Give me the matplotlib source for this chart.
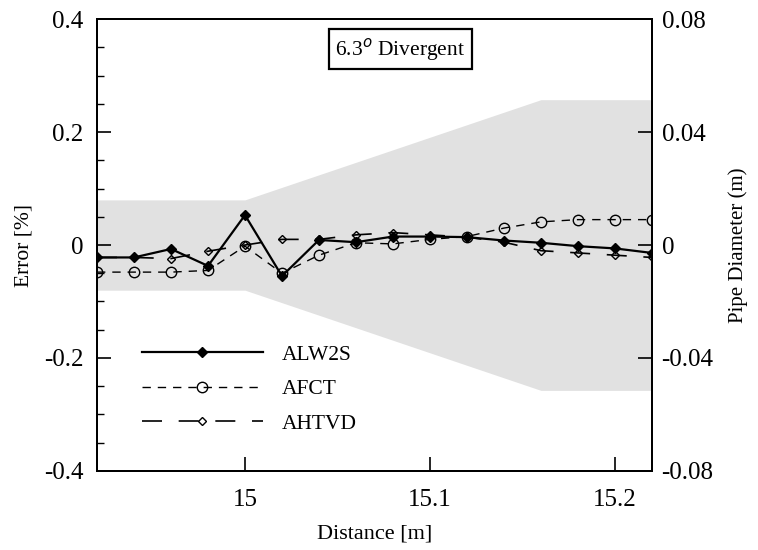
import matplotlib
matplotlib.use("Agg")
import matplotlib.pyplot as plt
import numpy as np

plt.rcParams['font.family'] = ['Liberation Serif', 'DejaVu Serif']
plt.rcParams['mathtext.fontset'] = 'custom'
plt.rcParams['mathtext.rm'] = 'Liberation Serif'

# Data
distance = [14.92, 14.94, 14.96, 14.98, 15.00, 15.02, 15.04, 15.06,
            15.08, 15.10, 15.12, 15.14, 15.16, 15.18, 15.20, 15.22]
alw2s = [-0.022, -0.022, -0.007, -0.037, 0.053, -0.055, 0.009, 0.005,
         0.015, 0.015, 0.014, 0.008, 0.004, -0.002, -0.006, -0.014]
afct = [-0.048, -0.048, -0.048, -0.045, -0.002, -0.050, -0.018, 0.004,
        0.002, 0.010, 0.015, 0.030, 0.041, 0.045, 0.045, 0.045]
ahtvd = [-0.022, -0.022, -0.024, -0.011, 0.000, 0.010, 0.010, 0.018,
         0.022, 0.018, 0.014, 0.005, -0.010, -0.014, -0.018, -0.022]

pipe_x = [14.92, 15.00, 15.16, 15.22]
pipe_r = [0.016, 0.016, 0.0515, 0.0515]

fig = plt.figure(figsize=(7.58, 5.5), dpi=100)
ax = fig.add_axes([0.128, 0.144, 0.732, 0.821])
ax2 = ax.twinx()

# Pipe shading on the right axis (drawn behind)
ax2.fill_between(pipe_x, [-r for r in pipe_r], pipe_r, color='#e1e1e1', lw=0, zorder=0)
ax2.set_ylim(-0.08, 0.08)
ax2.set_yticks([-0.08, -0.04, 0, 0.04, 0.08])
ax2.set_yticklabels(['-0.08', '-0.04', '0', '0.04', '0.08'])
ax2.set_ylabel('Pipe Diameter (m)', fontsize=15)
ax2.yaxis.set_label_coords(1.138, 0.5)

ax.set_zorder(ax2.get_zorder() + 1)
ax.patch.set_visible(False)

ax.plot(distance, alw2s, '-', color='black', lw=1.6, marker='D', ms=5.5,
        mfc='black', mec='black', label='ALW2S')
ax.plot(distance, afct, '--', color='black', lw=1.0, dashes=(6, 5), marker='o', ms=7.5,
        mfc='none', mec='black', mew=1.0, label='AFCT')
ax.plot(distance, ahtvd, '-', color='black', lw=1.2, dashes=(12, 10), marker='D', ms=4.5,
        mfc='none', mec='black', mew=1.0, label='AHTVD')

ax.set_xlim(14.92, 15.22)
ax.set_ylim(-0.4, 0.4)
ax.set_xticks([15.0, 15.1, 15.2])
ax.set_xticklabels(['15', '15.1', '15.2'])
ax.set_yticks([-0.4, -0.2, 0, 0.2, 0.4])
ax.set_yticklabels(['-0.4', '-0.2', '0', '0.2', '0.4'])
ax.set_yticks(np.arange(-0.4, 0.41, 0.05), minor=True)
ax.set_xticks([], minor=True)
ax.set_xlabel('Distance [m]', fontsize=16, labelpad=10)
ax.set_ylabel('Error [%]', fontsize=15.5)
ax.yaxis.set_label_coords(-0.115, 0.5)

for a in (ax, ax2):
    a.tick_params(axis='both', which='major', direction='in', length=10, width=1.2, labelsize=18, pad=10)
    a.tick_params(axis='both', which='minor', direction='in', length=5, width=1.0)
    for s in a.spines.values():
        s.set_linewidth(1.4)
ax.tick_params(axis='x', pad=13)
ax2.tick_params(axis='y', pad=7)

ax.text(15.084, 0.347, r'6.3$^o$ Divergent', fontsize=15.5, ha='center', va='center',
        bbox=dict(boxstyle='square,pad=0.3', fc='white', ec='black', lw=1.6))

leg = ax.legend(loc='upper left', bbox_to_anchor=(0.081, 0.279), frameon=False, fontsize=15.5,
                handlelength=5.6, handletextpad=0.9, labelspacing=0.67, borderpad=0,
                borderaxespad=0)

fig.savefig('out.png', dpi=100)
